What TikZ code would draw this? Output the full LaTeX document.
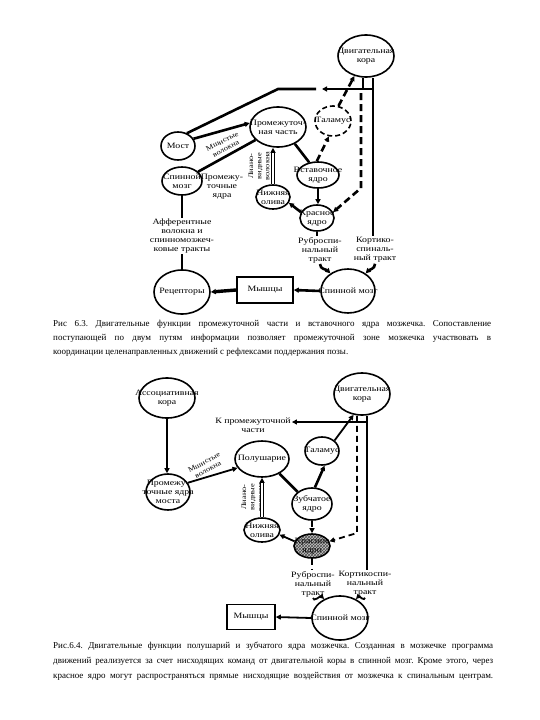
\documentclass[tikz,border=0pt]{standalone}
\usepackage{fontspec}
\setmainfont{Liberation Serif}
\newfontfamily\nodefam[FakeStretch=1.2]{Liberation Serif}
\usetikzlibrary{shapes.geometric,arrows.meta,calc,patterns}
\newcommand\nfnt{\nodefam\fontsize{8.2}{9}\selectfont}
\newcommand\rfnt{\nodefam\fontsize{7}{8.2}\selectfont}
\newcommand\cfnt{\fontsize{9}{10}\selectfont}
\frenchspacing
\tikzset{
  el/.style={ellipse, draw, line width=1.6pt, inner sep=0pt},
  boxn/.style={rectangle, draw, line width=1.6pt, inner sep=0pt, align=center, font=\nfnt},
  lbl/.style={align=center, font=\nfnt, inner sep=1pt},
  rlbl/.style={align=center, font=\rfnt, inner sep=0pt},
  ar/.style={-{Triangle[length=5pt,width=5pt]}},
  tl/.style={line width=2.6pt},
  ml/.style={line width=1.8pt},
  dl/.style={line width=2.6pt, dash pattern=on 7pt off 4pt},
  dl2/.style={line width=1.8pt, dash pattern=on 6pt off 4pt},
  dbl/.style={double, double distance=1.4pt, line width=1.1pt},
  capline/.style={anchor=west, inner sep=0pt, font=\cfnt}
}
\begin{document}
\begin{tikzpicture}[x=1pt,y=-1pt]
\useasboundingbox (0,0) rectangle (540,720);
% ---------- Figure 6.3 ----------
\node[el, minimum width=56pt, minimum height=42pt, label={[lbl]center:{Двигательная\\кора}}] (mc1) at (366,56) {};
\node[el, dash pattern=on 5pt off 3pt, minimum width=36pt, minimum height=30pt, label={[lbl]center:Таламус}] (th1) at (333,121) {};
\node[el, minimum width=56pt, minimum height=40pt, label={[lbl]center:{Промежуточ-\\ная часть}}] (ip1) at (278,127) {};
\node[el, minimum width=34pt, minimum height=28pt, label={[lbl]center:Мост}] (pons1) at (178,146) {};
\node[el, minimum width=40pt, minimum height=28pt, label={[lbl]center:{Спинной\\мозг}}] (sc1a) at (182,181) {};
\node[lbl] (pn1) at (222,187) {Промежу-\\точные\\ядра};
\node[el, minimum width=42pt, minimum height=26pt, label={[lbl]center:{Вставочное\\ядро}}] (in1) at (318,175) {};
\node[el, minimum width=34pt, minimum height=24pt, label={[lbl]center:{Нижняя\\олива}}] (io1) at (273,197) {};
\node[el, minimum width=34pt, minimum height=26pt, label={[lbl]center:{Красное\\ядро}}] (rn1) at (317,218) {};
\node[lbl] (aff1) at (182,236) {Афферентные\\волокна и\\спинномозжеч-\\ковые тракты};
\node[lbl] (rs1) at (320,250) {Руброспи-\\нальный\\тракт};
\node[lbl] (cs1) at (375,250) {Кортико-\\спиналь-\\ный тракт};
\node[el, minimum width=56pt, minimum height=44pt, label={[lbl]center:Рецепторы}] (rec1) at (182,292) {};
\node[boxn, minimum width=56pt, minimum height=26pt] (mus1) at (265,290) {Мышцы};
\node[el, minimum width=54pt, minimum height=44pt, label={[lbl]center:{Спинной мозг}}] (sc1) at (348,291) {};
\node[rlbl, rotate=27] (mf1) at (224,145) {Мшистые\\волокна};
\node[rlbl, rotate=90] (cf1) at (259,166) {Лиано-\\видные\\волокна};

\coordinate (c1a) at (373,89);
\coordinate (c1b) at (363,89);
\coordinate (c1arr) at (322,89);
\coordinate (c1gap) at (316,89);
\coordinate (c1k) at (278,89);
\coordinate (c1e) at (361,93);
\coordinate (c1d) at (361,188);

\draw[tl] (mc1.south -| c1a) -- (c1a |- cs1.north);
\draw[tl] (mc1.south -| c1b) -- (c1b);
\draw[tl,ar] (c1a) -- (c1arr);
\draw[tl] (c1gap) -- (c1k) -- (pons1.55);
\draw[dl,ar] (c1e) -- (c1d) -- (rn1.20);
\draw[dl,ar] (th1.70) -- (mc1.240);
\draw[dl,ar] (in1.95) -- (th1.255);
\draw[tl] (ip1.-45) -- (in1.125);
\draw[tl,ar] (pons1.25) -- (ip1.172);
\draw[tl] (sc1a.30) -- (ip1.210);
\draw[dbl,ar] (io1.north) -- (io1.north |- ip1.south);
\draw[tl,ar] (in1.south) -- (in1.south |- rn1.north);
\draw[tl,ar] (rn1.160) -- (io1.-20);
\draw[tl] (rn1.south) -- (rn1.south |- rs1.north);
\draw[tl,ar] (rs1.south) to[out=-90,in=135] (sc1.135);
\draw[tl,ar] (cs1.south) to[out=-90,in=45] (sc1.45);
\draw[tl,ar] (sc1.west) -- (mus1.east);
\draw[line width=3.4pt,ar] (mus1.west) -- (rec1.east);
\draw[tl] (rec1.north) -- (aff1.south);
\draw[tl] (aff1.north) -- (sc1a.south);

% caption 1
\node[capline] (cap1a) at (53,324) {\makebox[438pt][s]{Рис 6.3. Двигательные функции промежуточной части и вставочного ядра мозжечка. Сопоставление}};
\node[capline] (cap1b) at (53,338) {\makebox[438pt][s]{поступающей по двум путям информации позволяет промежуточной зоне мозжечка участвовать в}};
\node[capline] (cap1c) at (53,352) {координации целенаправленных движений с рефлексами поддержания позы.};

% ---------- Figure 6.4 ----------
\node[el, minimum width=56pt, minimum height=40pt, label={[lbl]center:{Ассоциативная\\кора}}] (ac2) at (167,398) {};
\node[el, minimum width=56pt, minimum height=42pt, label={[lbl]center:{Двигательная\\кора}}] (mc2) at (362,394) {};
\node[lbl] (kp2) at (253,425) {К промежуточной\\части};
\node[el, minimum width=34pt, minimum height=28pt, label={[lbl]center:Таламус}] (th2) at (322,451) {};
\node[el, minimum width=54pt, minimum height=36pt, label={[lbl]center:Полушарие}] (hem2) at (262,459) {};
\node[el, minimum width=44pt, minimum height=36pt, label={[lbl]center:{Промежу-\\точные ядра\\моста}}] (pn2) at (168,492) {};
\node[el, minimum width=40pt, minimum height=32pt, label={[lbl]center:{Зубчатое\\ядро}}] (dn2) at (312,504) {};
\node[el, minimum width=36pt, minimum height=24pt, label={[lbl]center:{Нижняя\\олива}}] (io2) at (262,530) {};
\node[el, minimum width=36pt, minimum height=24pt, preaction={fill=gray!45}, pattern=crosshatch, pattern color=gray!60!black, label={[lbl]center:{Красное\\ядро}}] (rn2) at (312,546) {};
\node[lbl] (rs2) at (313,584) {Руброспи-\\нальный\\тракт};
\node[lbl] (cs2) at (365,584) {Кортикоспи-\\нальный\\тракт};
\node[el, minimum width=56pt, minimum height=44pt, label={[lbl]center:{Спинной мозг}}] (sc2) at (340,618) {};
\node[boxn, minimum width=48pt, minimum height=25pt] (mus2) at (251,617) {Мышцы};
\node[rlbl, rotate=28] (mf2) at (206,466) {Мшистые\\волокна};
\node[rlbl, rotate=90] (cf2) at (252,497) {Лиано-\\видные\\волокна};

\coordinate (c2a) at (367,422);
\coordinate (c2d) at (357,420);
\coordinate (c2dash) at (357,533);

\draw[ml,ar] (ac2.south) -- (ac2.south |- pn2.north);
\draw[ml,ar] (pn2.25) -- (hem2.200);
\draw[ml] (mc2.south -| c2a) -- (c2a |- cs2.north);
\draw[ml,ar] (c2a) -- (kp2.east |- c2a);
\draw[dl2,ar] (mc2.south -| c2d) -- (c2dash) -- (rn2.15);
\draw[ml,ar] (th2.40) -- (mc2.248);
\draw[tl] (hem2.-40) -- (dn2.140);
\draw[tl,ar] (dn2.80) -- (th2.-80);
\draw[dl2,ar] (dn2.south) -- (rn2.north);
\draw[ml,ar] (rn2.165) -- (io2.-15);
\draw[dbl,ar] (io2.north) -- (io2.north |- hem2.south);
\draw[dl2] (rn2.south) -- (rn2.south |- rs2.north);
\draw[ml,ar] (rs2.south) to[out=-90,in=135] (sc2.130);
\draw[ml,ar] (cs2.south) to[out=-90,in=45] (sc2.50);
\draw[ml,ar] (sc2.west) -- (mus2.east);

% caption 2
\node[capline] (cap2a) at (53,646) {\makebox[440pt][s]{Рис.6.4. Двигательные функции полушарий и зубчатого ядра мозжечка. Созданная в мозжечке программа}};
\node[capline] (cap2b) at (53,661) {\makebox[440pt][s]{движений реализуется за счет нисходящих команд от двигательной коры в спинной мозг. Кроме этого, через}};
\node[capline] (cap2c) at (53,676) {\makebox[440pt][s]{красное ядро могут распространяться прямые нисходящие воздействия от мозжечка к спинальным центрам.}};
\end{tikzpicture}
\end{document}
